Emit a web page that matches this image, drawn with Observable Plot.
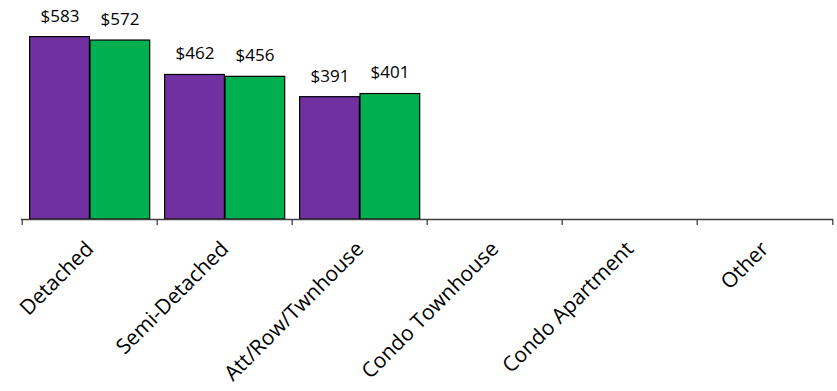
<!DOCTYPE html>
<html>
<head>
<meta charset="utf-8">
<script src="https://cdn.jsdelivr.net/npm/d3@7"></script>
<script src="https://cdn.jsdelivr.net/npm/@observablehq/plot@0.6"></script>
<style>
  html, body { margin: 0; padding: 0; background: #fff; }
  #chart svg { display: block; }
</style>
</head>
<body>
<div id="chart"></div>
<script>
const categories = ["Detached", "Semi-Detached", "Att/Row/Twnhouse", "Condo Townhouse", "Condo Apartment", "Other"];
const purpleValues = [583, 462, 391, null, null, null];
const greenValues = [572, 456, 401, null, null, null];

const purpleRows = categories.map((c, i) => ({category: c, value: purpleValues[i]}));
const greenRows = categories.map((c, i) => ({category: c, value: greenValues[i]}));
const fmt = d => d.value == null ? "" : "$" + d.value;

const chart = Plot.plot({
  width: 837,
  height: 391,
  marginTop: 0,
  marginBottom: 172,
  marginLeft: 21,
  marginRight: 4,
  style: {fontFamily: "'Open Sans', sans-serif", background: "#fff"},
  x: {domain: categories, padding: 0, label: null},
  y: {domain: [0, 700], axis: null},
  marks: [
    Plot.barY(purpleRows, {x: "category", y: "value", fill: "#7030A0", stroke: "#000", strokeWidth: 1.2, insetLeft: 7.6, insetRight: 67.6}),
    Plot.barY(greenRows, {x: "category", y: "value", fill: "#00B050", stroke: "#000", strokeWidth: 1.2, insetLeft: 68, insetRight: 7.3}),
    Plot.text(purpleRows, {x: "category", y: "value", text: fmt, dx: -30, dy: -21, fontSize: 17, fill: "#000"}),
    Plot.text(greenRows, {x: "category", y: "value", text: fmt, dx: 30, dy: -21, fontSize: 17, fill: "#000"}),
    Plot.ruleY([0], {stroke: "#404040", strokeWidth: 1.3}),
    Plot.ruleX(categories, {x: d => d, y1: 0, y2: 0, dx: -67.8, insetBottom: -6, stroke: "#404040", strokeWidth: 1.3}),
    Plot.ruleX(categories.slice(-1), {x: d => d, y1: 0, y2: 0, dx: 67.8, insetBottom: -6, stroke: "#404040", strokeWidth: 1.3}),
    Plot.axisX({tickSize: 0, tickPadding: 26, tickRotate: -45, fontSize: 21, fill: "#000", label: null})
  ]
});
document.getElementById("chart").appendChild(chart);
</script>
</body>
</html>
